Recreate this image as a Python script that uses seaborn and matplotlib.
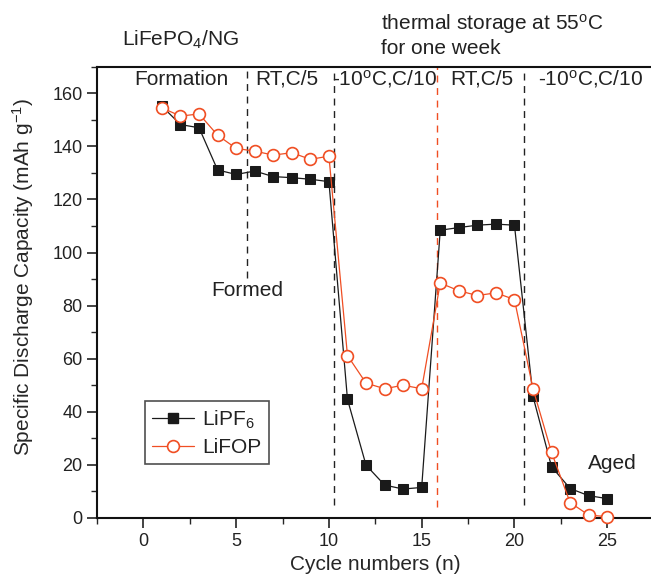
import matplotlib
matplotlib.use('Agg')
import matplotlib.pyplot as plt
from matplotlib.ticker import MultipleLocator
from matplotlib.lines import Line2D
import pandas as pd
import seaborn as sns

# cycle data
cycles = list(range(1, 26))
lipf6 = [155.1, 148.2, 147.0, 131.1, 129.4, 130.7, 128.6, 128.2, 127.6, 126.7,
         44.7, 19.9, 12.4, 10.9, 11.5, 108.4, 109.4, 110.3, 110.7, 110.3,
         45.8, 19.3, 11.1, 8.4, 7.3]
lifop = [154.5, 151.4, 152.2, 144.2, 139.2, 138.2, 136.7, 137.6, 135.1, 136.3,
         61.2, 50.8, 48.7, 50.0, 48.7, 88.5, 85.6, 83.8, 84.8, 82.3,
         48.7, 24.7, 5.8, 1.1, 0.5]

# segment labels along the top
stage_labels = ['Formation', 'RT,C/5', '-10$^o$C,C/10', 'RT,C/5', '-10$^o$C,C/10']
stage_x = [2.05, 7.75, 13.0, 18.25, 24.1]

# dashed separators: x, lower end, colour
sep_x = [5.6, 10.3, 15.8, 20.5]
sep_ymin = [90.5, 4.9, 4.2, 4.9]
sep_col = ['#222222', '#222222', '#F04E23', '#222222']

red = '#F04E23'
fs = 15

sns.set_style('ticks')
plt.rcParams['font.family'] = ['Liberation Sans', 'DejaVu Sans']
plt.rcParams['mathtext.default'] = 'regular'
plt.rcParams['text.color'] = '#222222'

df1 = pd.DataFrame({'cycle': cycles, 'cap': lipf6})
df2 = pd.DataFrame({'cycle': cycles, 'cap': lifop})

fig = plt.figure(figsize=(6.51, 5.79), dpi=100)
ax = fig.add_axes([0.149, 0.1054, 0.855, 0.7794])

# separators
for x, y0, c in zip(sep_x, sep_ymin, sep_col):
    ax.plot([x, x], [y0, 170], color=c, lw=1, linestyle=(0, (5, 4)), zorder=1)

sns.lineplot(data=df1, x='cycle', y='cap', ax=ax, color='#1a1a1a', lw=0.9,
             marker='s', markersize=7.5, markerfacecolor='#1a1a1a',
             markeredgecolor='#1a1a1a', zorder=3)
sns.lineplot(data=df2, x='cycle', y='cap', ax=ax, color=red, lw=0.9,
             marker='o', markersize=8.5, markerfacecolor='white',
             markeredgecolor=red, markeredgewidth=1.2, zorder=4, clip_on=False)

ax.set_xlim(-2.5, 27.5)
ax.set_ylim(0, 170)
ax.xaxis.set_major_locator(MultipleLocator(5))
ax.xaxis.set_minor_locator(MultipleLocator(2.5))
ax.yaxis.set_major_locator(MultipleLocator(20))
ax.yaxis.set_minor_locator(MultipleLocator(10))
ax.tick_params(which='major', direction='out', length=7, width=1.2,
               labelsize=13, colors='#222222')
ax.tick_params(which='minor', direction='out', length=4, width=1.0)
ax.set_yticks(range(0, 161, 20))

for s in ['left', 'bottom', 'top']:
    ax.spines[s].set_linewidth(1.5)
    ax.spines[s].set_color('#111111')
ax.spines['right'].set_visible(False)

ax.set_xlabel('Cycle numbers (n)', fontsize=15, labelpad=4)
ax.set_ylabel('Specific Discharge Capacity (mAh g$^{-1}$)', fontsize=15)
ax.yaxis.set_label_coords(-0.11, 0.535)

for lab, x in zip(stage_labels, stage_x):
    ax.text(x, 165.3, lab, ha='center', va='center', fontsize=fs)

ax.text(2.0, 180.3, 'LiFePO$_4$/NG', ha='center', va='center', fontsize=fs,
        clip_on=False)
ax.text(12.8, 185.9, 'thermal storage at 55$^o$C', ha='left', va='center',
        fontsize=fs, clip_on=False)
ax.text(12.8, 176.9, 'for one week', ha='left', va='center', fontsize=fs,
        clip_on=False)
ax.text(5.6, 85.6, 'Formed', ha='center', va='center', fontsize=fs)
ax.text(25.3, 20.6, 'Aged', ha='center', va='center', fontsize=fs)

handles = [
    Line2D([], [], color='#1a1a1a', lw=0.9, marker='s', markersize=7.5,
           markerfacecolor='#1a1a1a', markeredgecolor='#1a1a1a'),
    Line2D([], [], color=red, lw=0.9, marker='o', markersize=8.5,
           markerfacecolor='white', markeredgecolor=red, markeredgewidth=1.2),
]
leg = ax.legend(handles, ['LiPF$_6$', 'LiFOP'], loc='upper left',
                bbox_to_anchor=(0.086, 0.259), borderaxespad=0, fontsize=15,
                frameon=True, fancybox=False, edgecolor='#222222',
                handlelength=2.0, borderpad=0.35, labelspacing=0.35,
                handletextpad=0.4)
leg.get_frame().set_linewidth(1.2)

fig.savefig('out.png', dpi=100)
